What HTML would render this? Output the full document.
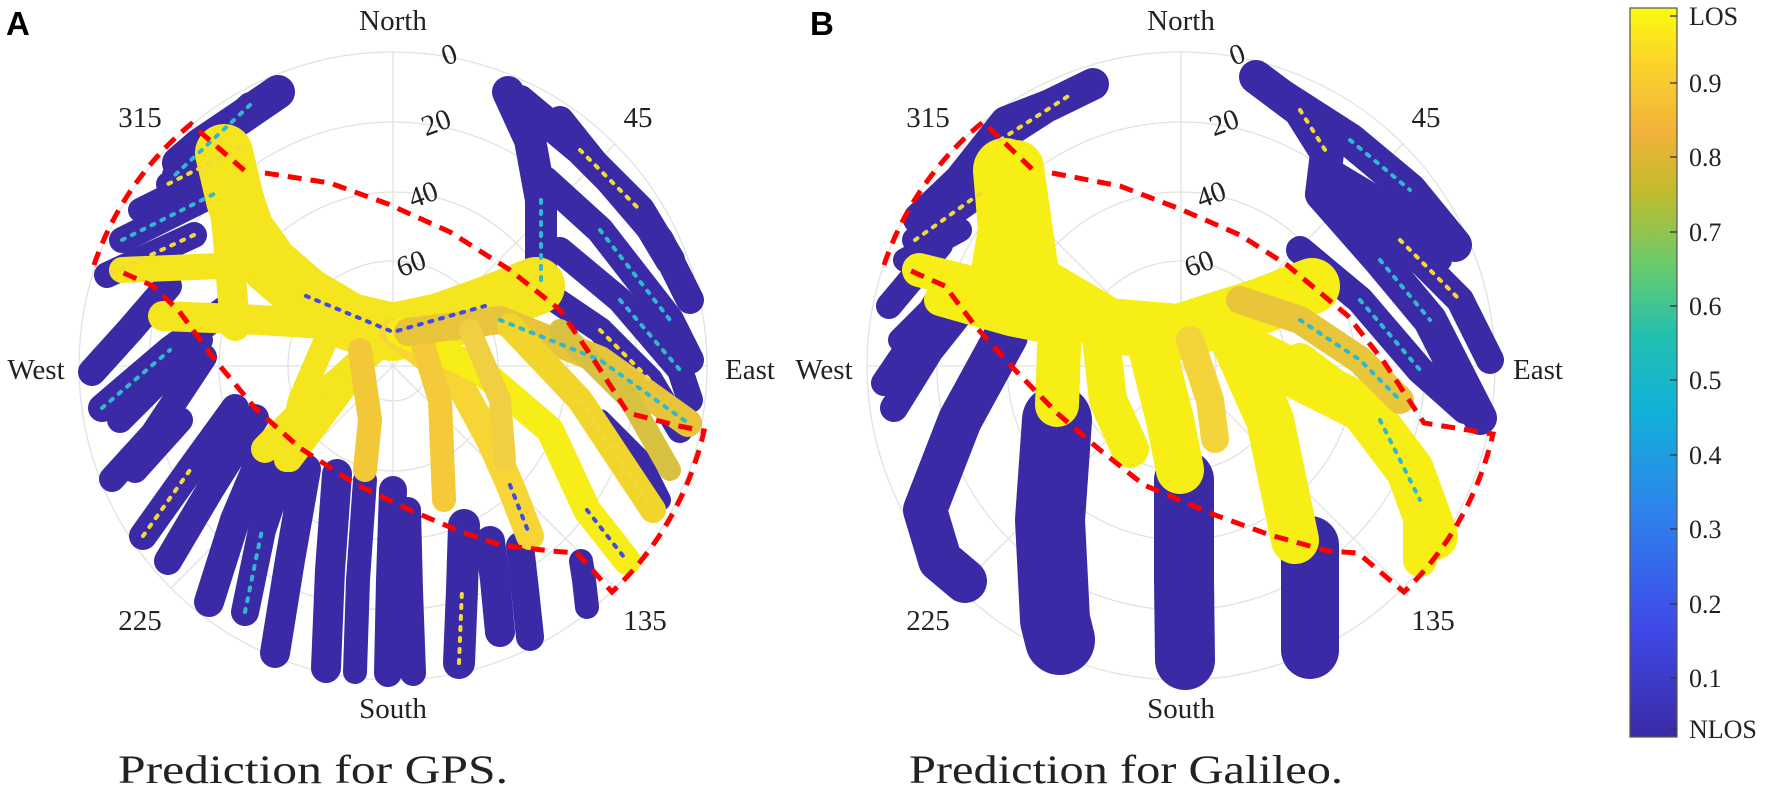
<!DOCTYPE html>
<html><head><meta charset="utf-8"><style>
html,body{margin:0;padding:0;background:#fff;}
svg{display:block;}
text{font-family:"Liberation Serif",serif;fill:#222;}
</style></head><body>
<svg width="1772" height="789" viewBox="0 0 1772 789" xmlns="http://www.w3.org/2000/svg">
<defs>
<linearGradient id="cb" x1="0" y1="1" x2="0" y2="0">
<stop offset="0" stop-color="#3a2aa6"/><stop offset="0.15" stop-color="#3f4ae8"/>
<stop offset="0.3" stop-color="#2f80ee"/><stop offset="0.45" stop-color="#12b2d8"/>
<stop offset="0.55" stop-color="#22c0b0"/><stop offset="0.65" stop-color="#6ccb6a"/>
<stop offset="0.75" stop-color="#c3bb2c"/><stop offset="0.83" stop-color="#f2b23a"/>
<stop offset="0.92" stop-color="#fbd22c"/><stop offset="1" stop-color="#f9fb0e"/>
</linearGradient>
<g id="grid">
<g fill="none" stroke="#e2e2e2" stroke-width="1.3">
<circle r="314"/><circle r="244"/><circle r="174"/><circle r="105"/><circle r="35"/>
<line x1="0" y1="0" x2="0" y2="-314"/><line x1="0" y1="0" x2="0" y2="314"/>
<line x1="0" y1="0" x2="314" y2="0"/><line x1="0" y1="0" x2="-314" y2="0"/>
<line x1="0" y1="0" x2="222" y2="-222"/><line x1="0" y1="0" x2="-222" y2="-222"/>
<line x1="0" y1="0" x2="222" y2="222"/><line x1="0" y1="0" x2="-222" y2="222"/>
</g></g>
</defs>

<!-- ===== Plot A ===== -->
<use href="#grid" transform="translate(393,366)"/>
<g fill="none" stroke-linecap="round" stroke-linejoin="round">
<g stroke="#3a2aa6">
<path stroke-width="34" d="M278,92 L240,118 L200,145 L179,163"/>
<path stroke-width="26" d="M250,105 L175,175"/>
<path stroke-width="24" d="M168,184 L240,148"/>
<path stroke-width="24" d="M140,210 L220,170"/>
<path stroke-width="26" d="M122,240 L214,194"/>
<path stroke-width="26" d="M107,275 L194,235"/>
<path stroke-width="28" d="M92,372 L130,330 L168,286"/>
<path stroke-width="28" d="M102,408 L170,350 L230,306"/>
<path stroke-width="26" d="M120,420 L200,340"/>
<path stroke-width="26" d="M112,479 L153,434 L204,357"/>
<path stroke-width="26" d="M135,470 L180,420"/>
<path stroke-width="28" d="M143,536 L190,470 L235,408"/>
<path stroke-width="28" d="M168,561 L210,490 L255,418"/>
<path stroke-width="30" d="M209,602 L235,520 L265,449"/>
<path stroke-width="28" d="M245,612 L262,530 L286,459"/>
<path stroke-width="30" d="M275,653 L290,560 L306,469"/>
<path stroke-width="30" d="M326,668 L330,570 L337,474"/>
<path stroke-width="24" d="M355,672 L358,580 L365,480"/>
<path stroke-width="28" d="M388,673 L390,580 L393,490"/>
<path stroke-width="26" d="M413,673 L410,590 L408,510"/>
<path stroke-width="32" d="M459,663 L462,590 L464,525"/>
<path stroke-width="30" d="M500,632 L495,580 L490,541"/>
<path stroke-width="28" d="M530,637 L525,590 L520,546"/>
<path stroke-width="24" d="M587,607 L584,580 L581,561"/>
<path stroke-width="32" d="M508,92 L530,140 L541,200 L541,286"/>
<path stroke-width="30" d="M520,100 L580,150 L640,210 L670,260"/>
<path stroke-width="28" d="M560,120 L600,170 L660,240 L690,300"/>
<path stroke-width="28" d="M545,180 L600,230 L670,320 L690,360"/>
<path stroke-width="26" d="M560,250 L620,300 L680,370 L690,400"/>
<path stroke-width="26" d="M541,290 L600,330 L650,380 L680,430"/>
<path stroke-width="22" d="M600,420 L640,460 L660,500"/>
</g>
<g stroke="#f5e51e">
<path stroke-width="58" d="M224,153 L235,200 L245,230 L270,265 L306,296 L350,322 L393,332 L440,322 L485,306 L536,286"/>
<path stroke-width="30" d="M219,153 L228,240 L235,326"/>
<path stroke-width="26" d="M122,270 L245,265"/>
<path stroke-width="30" d="M163,316 L260,320 L357,326"/>
<path stroke-width="28" d="M393,332 L340,380 L306,408 L265,449"/>
<path stroke-width="24" d="M380,340 L320,420 L290,460"/>
<path stroke-width="28" d="M393,332 L459,383 L490,440 L510,485 L530,536" stroke="#f7d535"/>
<path stroke-width="28" d="M400,332 L480,370 L550,430 L587,510 L627,561" stroke="#f7ee18"/>
<path stroke-width="24" d="M420,335 L440,400 L444,500" stroke="#f4c93a"/>
<path stroke-width="24" d="M360,350 L370,420 L365,470" stroke="#f2c838"/>
<path stroke-width="24" d="M330,330 L300,400 L286,460"/>
<path stroke-width="28" d="M408,332 L500,320 L600,360 L688,423" stroke="#e8c43a"/>
<path stroke-width="26" d="M510,326 L580,400 L653,510" stroke="#f1d52a"/>
<path stroke-width="22" d="M560,330 L630,400 L670,470" stroke="#d8c040"/>
<path stroke-width="22" d="M470,330 L500,400 L505,460" stroke="#f0d040"/>
</g>
<g stroke-width="4" stroke-dasharray="3 8">
<path stroke="#2fb8d0" d="M250,105 L175,175 M122,240 L214,194 M541,200 L541,286 M600,230 L670,320 M620,300 L680,370 M500,320 L600,360 L688,423 M102,408 L170,350 M245,612 L262,530"/>
<path stroke="#f3d83a" d="M240,148 L168,184 M194,235 L107,275 M580,150 L640,210 M600,330 L650,380 M580,400 L653,510 M143,536 L190,470 M459,663 L462,590"/>
<path stroke="#3f4ae8" d="M306,296 L393,332 L485,306 M510,485 L530,536 M587,510 L627,561"/>
</g>
</g>
<g fill="none" stroke="#ff0000" stroke-width="5" stroke-dasharray="14 9">
<path d="M94,265 A314,314 0 0 1 191,124 L245,171 M265,173 L330,183 L388,204 L450,232 L510,270 L560,310 L592,357 L628,413 L679,426 L704,431 A318,318 0 0 1 612,592 L577,553 L551,551 L500,545 L459,531 L410,510 L357,485 L300,448 L255,408 L215,360 L179,311 L153,286 L117,270"/>
</g>
<g font-size="29" text-anchor="middle">
<text x="393" y="30">North</text>
<text x="393" y="718">South</text>
<text x="36" y="379">West</text>
<text x="750" y="379">East</text>
<text x="140" y="127">315</text>
<text x="638" y="127">45</text>
<text x="140" y="630">225</text>
<text x="645" y="630">135</text>
<text x="449" y="64" transform="rotate(-20 449 54)">0</text>
<text x="436" y="132" transform="rotate(-20 436 122)">20</text>
<text x="423" y="204" transform="rotate(-20 423 194)">40</text>
<text x="411" y="273" transform="rotate(-20 411 263)">60</text>
</g>
<text x="6" y="35" font-size="33" font-weight="bold" style="font-family:'Liberation Sans',sans-serif;fill:#000">A</text>
<text x="118" y="783" font-size="40" textLength="390" lengthAdjust="spacingAndGlyphs">Prediction for GPS.</text>

<!-- ===== Plot B ===== -->
<use href="#grid" transform="translate(1181,366)"/>
<g fill="none" stroke-linecap="round" stroke-linejoin="round">
<g stroke="#3a2aa6">
<path stroke-width="32" d="M1093,84 L1050,105 L1006,122 L960,180 L919,219"/>
<path stroke-width="26" d="M1070,95 L1000,140"/>
<path stroke-width="26" d="M915,240 L985,190"/>
<path stroke-width="24" d="M905,260 L960,230"/>
<path stroke-width="28" d="M894,408 L930,350 L965,306"/>
<path stroke-width="26" d="M884,383 L920,330 L945,286"/>
<path stroke-width="26" d="M889,306 L940,245"/>
<path stroke-width="24" d="M900,340 L950,290"/>
<path stroke-width="44" d="M1006,336 L960,420 L925,510 L940,560 L965,581"/>
<path stroke-width="70" d="M1057,420 L1050,520 L1055,620 L1060,640"/>
<path stroke-width="60" d="M1184,480 L1184,580 L1185,660"/>
<path stroke-width="58" d="M1310,545 L1310,600 L1310,650"/>
<path stroke-width="34" d="M1256,77 L1300,110 L1327,153 L1322,194"/>
<path stroke-width="34" d="M1280,95 L1350,140 L1410,190 L1455,245"/>
<path stroke-width="34" d="M1322,194 L1380,260 L1430,320 L1480,418"/>
<path stroke-width="28" d="M1350,200 L1400,240 L1460,300 L1490,360"/>
<path stroke-width="28" d="M1300,250 L1360,300 L1420,370 L1465,410"/>
<path stroke-width="24" d="M1330,170 L1380,200 L1440,260"/>
</g>
<g stroke="#f6ee14">
<path stroke-width="64" d="M1005,170 L1010,230 L1000,290"/>
<path stroke-width="56" d="M1016,168 L1032,281 L1108,326 L1179,332 L1261,306 L1312,286"/>
<path stroke-width="34" d="M919,270 L1000,290 L1060,300"/>
<path stroke-width="32" d="M940,300 L1010,320 L1060,330"/>
<path stroke-width="44" d="M1060,320 L1057,405"/>
<path stroke-width="38" d="M1100,330 L1108,400 L1130,449"/>
<path stroke-width="48" d="M1150,340 L1170,420 L1180,470"/>
<path stroke-width="28" d="M1190,340 L1210,400 L1215,439" stroke="#f3d43a"/>
<path stroke-width="48" d="M1230,330 L1270,420 L1295,540"/>
<path stroke-width="48" d="M1261,357 L1363,408 L1410,470 L1434,536"/>
<path stroke-width="34" d="M1300,360 L1380,420 L1420,500 L1420,560"/>
<path stroke-width="28" d="M1240,300 L1300,320 L1360,360 L1400,400" stroke="#e9c53a"/>
</g>
<g stroke-width="4" stroke-dasharray="3 8">
<path stroke="#2fb8d0" d="M1350,140 L1410,190 M1380,260 L1430,320 M1360,300 L1420,370 M1300,320 L1360,360 L1400,400 M1380,420 L1420,500"/>
<path stroke="#f3d83a" d="M1000,140 L1070,95 M915,240 L985,190 M1300,110 L1327,153 M1400,240 L1460,300"/>
</g>
</g>
<g fill="none" stroke="#ff0000" stroke-width="5" stroke-dasharray="14 9">
<path d="M884,265 A314,314 0 0 1 983,122 L1034,171 M1052,173 L1120,186 L1180,209 L1240,235 L1287,265 L1348,316 L1384,362 L1424,423 L1493,434 A318,318 0 0 1 1404,592 L1358,553 L1328,551 L1270,535 L1215,515 L1144,485 L1100,450 L1057,413 L1015,370 L976,327 L945,286 L909,270"/>
</g>
<g font-size="29" text-anchor="middle">
<text x="1181" y="30">North</text>
<text x="1181" y="718">South</text>
<text x="824" y="379">West</text>
<text x="1538" y="379">East</text>
<text x="928" y="127">315</text>
<text x="1426" y="127">45</text>
<text x="928" y="630">225</text>
<text x="1433" y="630">135</text>
<text x="1237" y="64" transform="rotate(-20 1237 54)">0</text>
<text x="1224" y="132" transform="rotate(-20 1224 122)">20</text>
<text x="1211" y="204" transform="rotate(-20 1211 194)">40</text>
<text x="1199" y="273" transform="rotate(-20 1199 263)">60</text>
</g>
<text x="810" y="35" font-size="33" font-weight="bold" style="font-family:'Liberation Sans',sans-serif;fill:#000">B</text>
<text x="909" y="783" font-size="40" textLength="434" lengthAdjust="spacingAndGlyphs">Prediction for Galileo.</text>

<!-- ===== Colorbar ===== -->
<rect x="1630" y="8" width="47" height="729" fill="url(#cb)" stroke="#555" stroke-width="1.2"/>
<g stroke="#333" stroke-width="1.3">
<line x1="1670" x2="1677" y1="16" y2="16"/><line x1="1670" x2="1677" y1="83" y2="83"/>
<line x1="1670" x2="1677" y1="157" y2="157"/><line x1="1670" x2="1677" y1="232" y2="232"/>
<line x1="1670" x2="1677" y1="306" y2="306"/><line x1="1670" x2="1677" y1="380" y2="380"/>
<line x1="1670" x2="1677" y1="455" y2="455"/><line x1="1670" x2="1677" y1="529" y2="529"/>
<line x1="1670" x2="1677" y1="604" y2="604"/><line x1="1670" x2="1677" y1="678" y2="678"/>
<line x1="1670" x2="1677" y1="729" y2="729"/>
</g>
<g font-size="26">
<text x="1689" y="25">LOS</text>
<text x="1689" y="92">0.9</text>
<text x="1689" y="166">0.8</text>
<text x="1689" y="241">0.7</text>
<text x="1689" y="315">0.6</text>
<text x="1689" y="389">0.5</text>
<text x="1689" y="464">0.4</text>
<text x="1689" y="538">0.3</text>
<text x="1689" y="613">0.2</text>
<text x="1689" y="687">0.1</text>
<text x="1689" y="738">NLOS</text>
</g>
</svg>
</body></html>
